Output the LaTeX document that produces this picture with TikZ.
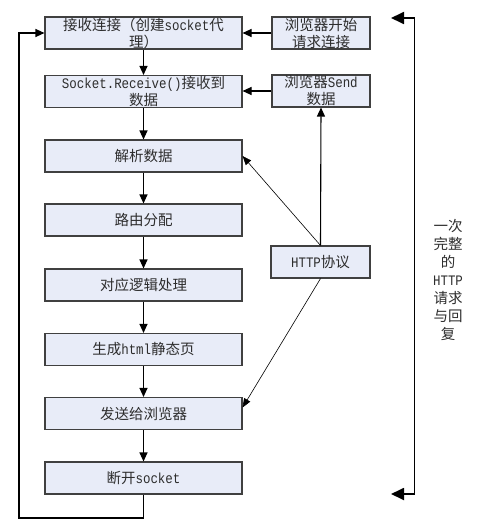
\documentclass[tikz,border=0pt]{standalone}
\usepackage{fontspec}
\newfontfamily\cjkf{Noto Sans CJK SC}
\newfontfamily\latm[FakeStretch=0.86]{Liberation Mono}
\newcommand\Lm[1]{{\latm\fontsize{14.5}{17}\selectfont #1}}
\usetikzlibrary{arrows.meta,calc}
\definecolor{boxfill}{RGB}{232,236,248}
\definecolor{boxline}{RGB}{64,64,64}
\definecolor{txt}{RGB}{45,45,45}
\tikzset{
  stepbox/.style={draw=boxline, line width=1.1pt, fill=boxfill, text=txt,
    minimum width=197pt, minimum height=32pt, inner sep=0pt, align=center,
    font=\cjkf\fontsize{14.5}{17}\selectfont},
  sidebox/.style={stepbox, minimum width=98pt},
  arr/.style={line width=1.1pt, -{Triangle[length=9pt,width=8pt]}},
  thinarr/.style={line width=0.6pt, -{Triangle[length=9pt,width=7pt]}},
  brk/.style={line width=1.8pt, {Triangle[length=13pt,width=12pt]}-{Triangle[length=13pt,width=12pt]}},
}
\begin{document}
\begin{tikzpicture}[x=1pt,y=-1pt]
\useasboundingbox (0,0) rectangle (477,527);
% main column
\node[stepbox] (b1) at (143.5,33) {接收连接（创建\Lm{socket}代\\理）};
\node[stepbox] (b2) at (143.5,91.5) {\Lm{Socket.Receive()}接收到\\数据};
\node[stepbox] (b3) at (143.5,156) {解析数据};
\node[stepbox] (b4) at (143.5,220) {路由分配};
\node[stepbox] (b5) at (143.5,285) {对应逻辑处理};
\node[stepbox] (b6) at (143.5,349.5) {生成\Lm{html}静态页};
\node[stepbox] (b7) at (143.5,413.5) {发送给浏览器};
\node[stepbox] (b8) at (143.5,478) {断开\Lm{socket}};
% side boxes
\node[sidebox] (r1) at (321,33) {浏览器开始\\请求连接};
\node[sidebox] (r2) at (321,91) {浏览器\Lm{Send}\\数据};
\node[sidebox, minimum width=99pt] (http) at (320.5,262) {\Lm{HTTP}协议};
% right label
\node[text=txt, align=center, inner sep=0pt, font=\cjkf\fontsize{14.5}{18}\selectfont] (lbl) at (448,280)
  {一次\\完整\\的\\\Lm{HTTP}\\请求\\与回\\复};
% main flow
\foreach \a/\b in {b1/b2,b2/b3,b3/b4,b4/b5,b5/b6,b6/b7,b7/b8}
  \draw[arr] (\a) -- (\b);
\draw[arr] (r1) -- (b1);
\draw[arr] (r2.west) -- (b2.east |- r2.west);
\draw[arr] (http.north) -- (r2.south);
\draw[thinarr] (http.north) -- (b3.east);
\draw[thinarr] (http.south) -- ($(b7.east)+(0,-6)$);
% loop back
\coordinate (lp) at (19,518);
\draw[arr] (b8.south) |- (lp) |- (b1.west);
% bracket
\coordinate (ta) at (391,18);
\coordinate (bt) at (414.5,18);
\coordinate (bb) at (414.5,494);
\coordinate (tb) at (391,494);
\draw[brk] (ta) -- (bt) -- (bb) -- (tb);
\end{tikzpicture}
\end{document}
